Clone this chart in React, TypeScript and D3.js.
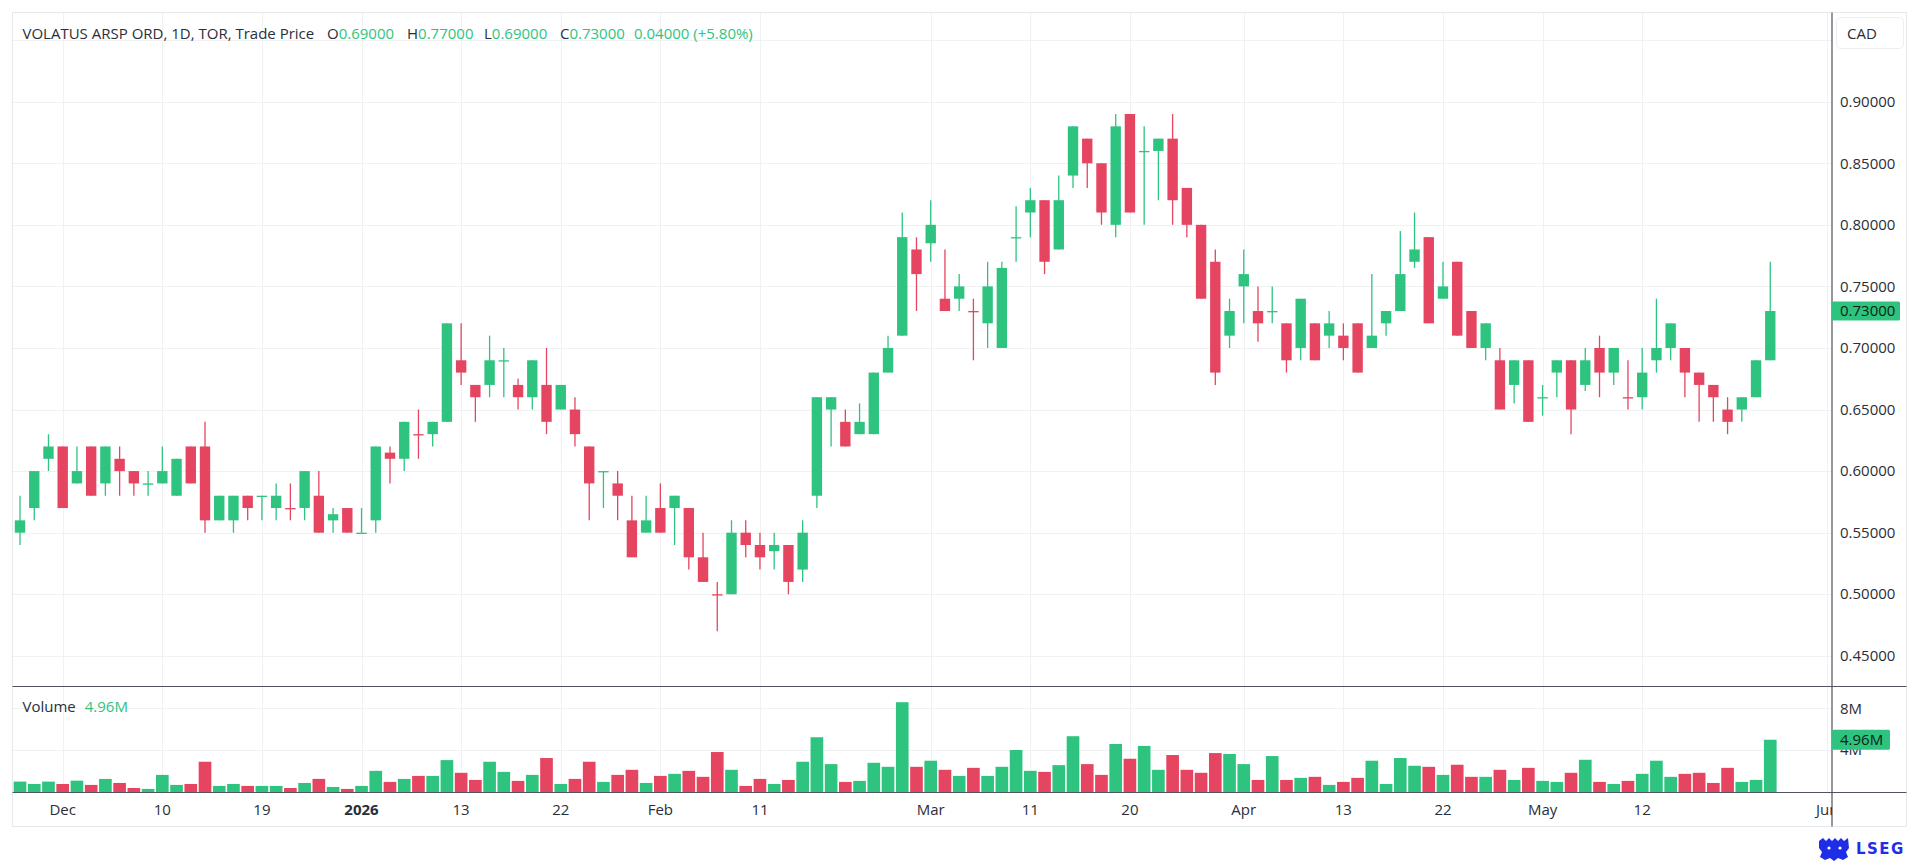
import { useEffect, useRef } from 'react';
import * as d3 from 'd3';

// Trading calendar (TSX) used for the time slots
const firstDay = '2025-11-26';
const lastSlot = '2026-06-01';
const holidays = ['2025-12-25', '2025-12-26', '2026-01-01', '2026-02-16', '2026-04-03', '2026-05-18'];

const opens = [
  0.55, 0.57, 0.61, 0.62, 0.59, 0.62, 0.59, 0.61, 0.60, 0.59,
  0.59, 0.58, 0.62, 0.62, 0.56, 0.56, 0.58, 0.58, 0.57, 0.57,
  0.57, 0.58, 0.56, 0.57, 0.55, 0.56, 0.615, 0.61, 0.63, 0.63,
  0.64, 0.69, 0.67, 0.67, 0.69, 0.67, 0.66, 0.67, 0.65, 0.65,
  0.62, 0.60, 0.59, 0.56, 0.55, 0.57, 0.57, 0.57, 0.53, 0.50,
  0.50, 0.55, 0.54, 0.535, 0.54, 0.52, 0.58, 0.65, 0.64, 0.63,
  0.63, 0.68, 0.71, 0.78, 0.785, 0.74, 0.74, 0.73, 0.72, 0.70,
  0.79, 0.81, 0.82, 0.78, 0.84, 0.87, 0.85, 0.80, 0.89, 0.86,
  0.86, 0.87, 0.83, 0.80, 0.77, 0.71, 0.75, 0.73, 0.73, 0.72,
  0.70, 0.72, 0.71, 0.71, 0.72, 0.70, 0.72, 0.73, 0.77, 0.79,
  0.74, 0.77, 0.73, 0.70, 0.69, 0.67, 0.69, 0.66, 0.68, 0.69,
  0.67, 0.70, 0.68, 0.66, 0.66, 0.69, 0.70, 0.70, 0.68, 0.67,
  0.65, 0.65, 0.66, 0.69,
];

const highs = [
  0.58, 0.60, 0.63, 0.62, 0.62, 0.62, 0.62, 0.62, 0.60, 0.60,
  0.62, 0.61, 0.62, 0.64, 0.58, 0.58, 0.58, 0.58, 0.59, 0.59,
  0.60, 0.60, 0.57, 0.57, 0.57, 0.62, 0.62, 0.64, 0.65, 0.64,
  0.72, 0.72, 0.67, 0.71, 0.70, 0.675, 0.69, 0.70, 0.67, 0.66,
  0.62, 0.60, 0.60, 0.58, 0.58, 0.59, 0.58, 0.57, 0.55, 0.51,
  0.56, 0.56, 0.55, 0.55, 0.54, 0.56, 0.66, 0.66, 0.65, 0.655,
  0.68, 0.71, 0.81, 0.79, 0.82, 0.78, 0.76, 0.74, 0.77, 0.77,
  0.815, 0.83, 0.82, 0.84, 0.88, 0.87, 0.85, 0.89, 0.89, 0.88,
  0.87, 0.89, 0.83, 0.80, 0.78, 0.74, 0.78, 0.75, 0.75, 0.72,
  0.74, 0.72, 0.73, 0.72, 0.72, 0.76, 0.73, 0.795, 0.81, 0.79,
  0.77, 0.77, 0.73, 0.72, 0.70, 0.69, 0.69, 0.67, 0.69, 0.69,
  0.70, 0.71, 0.70, 0.69, 0.70, 0.74, 0.72, 0.70, 0.68, 0.67,
  0.66, 0.66, 0.69, 0.77,
];

const lows = [
  0.54, 0.56, 0.60, 0.57, 0.59, 0.58, 0.58, 0.58, 0.58, 0.58,
  0.59, 0.58, 0.59, 0.55, 0.56, 0.55, 0.56, 0.56, 0.56, 0.56,
  0.56, 0.55, 0.55, 0.55, 0.55, 0.55, 0.59, 0.60, 0.61, 0.62,
  0.64, 0.67, 0.64, 0.66, 0.66, 0.65, 0.65, 0.63, 0.65, 0.62,
  0.56, 0.57, 0.56, 0.53, 0.55, 0.55, 0.54, 0.52, 0.51, 0.47,
  0.50, 0.53, 0.52, 0.52, 0.50, 0.51, 0.57, 0.62, 0.62, 0.63,
  0.63, 0.68, 0.71, 0.73, 0.77, 0.73, 0.73, 0.69, 0.70, 0.70,
  0.77, 0.79, 0.76, 0.78, 0.83, 0.83, 0.80, 0.79, 0.81, 0.80,
  0.82, 0.80, 0.79, 0.74, 0.67, 0.70, 0.72, 0.705, 0.72, 0.68,
  0.69, 0.69, 0.70, 0.69, 0.68, 0.70, 0.71, 0.73, 0.765, 0.72,
  0.74, 0.71, 0.70, 0.69, 0.65, 0.655, 0.64, 0.645, 0.66, 0.63,
  0.665, 0.66, 0.67, 0.65, 0.65, 0.68, 0.69, 0.66, 0.64, 0.64,
  0.63, 0.64, 0.66, 0.69,
];

const closes = [
  0.56, 0.60, 0.62, 0.57, 0.60, 0.58, 0.62, 0.60, 0.59, 0.59,
  0.60, 0.61, 0.59, 0.56, 0.58, 0.58, 0.57, 0.58, 0.58, 0.57,
  0.60, 0.55, 0.565, 0.55, 0.55, 0.62, 0.61, 0.64, 0.63, 0.64,
  0.72, 0.68, 0.66, 0.69, 0.69, 0.66, 0.69, 0.64, 0.67, 0.63,
  0.59, 0.60, 0.58, 0.53, 0.56, 0.55, 0.58, 0.53, 0.51, 0.50,
  0.55, 0.54, 0.53, 0.54, 0.51, 0.55, 0.66, 0.66, 0.62, 0.64,
  0.68, 0.70, 0.79, 0.76, 0.80, 0.73, 0.75, 0.73, 0.75, 0.765,
  0.79, 0.82, 0.77, 0.82, 0.88, 0.85, 0.81, 0.88, 0.81, 0.86,
  0.87, 0.82, 0.80, 0.74, 0.68, 0.73, 0.76, 0.72, 0.73, 0.69,
  0.74, 0.69, 0.72, 0.70, 0.68, 0.71, 0.73, 0.76, 0.78, 0.72,
  0.75, 0.71, 0.70, 0.72, 0.65, 0.69, 0.64, 0.66, 0.69, 0.65,
  0.69, 0.68, 0.70, 0.66, 0.68, 0.70, 0.72, 0.68, 0.67, 0.66,
  0.64, 0.66, 0.69, 0.73,
];

// volume in millions of shares
const volumes = [
  0.91, 0.68, 0.91, 0.68, 1.0, 0.59, 1.17, 0.78, 0.29, 0.2,
  1.56, 0.59, 0.68, 2.83, 0.49, 0.68, 0.49, 0.49, 0.49, 0.29,
  0.78, 1.17, 0.39, 0.2, 0.49, 1.95, 0.88, 1.17, 1.46, 1.46,
  2.99, 1.76, 1.07, 2.83, 1.85, 0.98, 1.56, 3.19, 0.68, 1.17,
  2.83, 0.88, 1.56, 2.05, 0.78, 1.46, 1.66, 1.95, 1.37, 3.77,
  2.05, 0.49, 1.17, 0.68, 1.07, 2.83, 5.2, 2.6, 0.88, 0.98,
  2.73, 2.34, 8.59, 2.34, 2.93, 2.05, 1.46, 2.24, 1.46, 2.34,
  3.97, 1.95, 1.85, 2.5, 5.3, 2.6, 1.56, 4.55, 3.12, 4.36,
  2.05, 3.48, 2.05, 1.76, 3.67, 3.58, 2.6, 1.07, 3.38, 1.07,
  1.27, 1.37, 0.59, 0.88, 1.27, 2.93, 0.68, 3.19, 2.44, 2.34,
  1.56, 2.54, 1.37, 1.37, 2.05, 1.07, 2.24, 0.98, 0.88, 1.76,
  3.02, 0.88, 0.68, 0.98, 1.66, 2.93, 1.37, 1.66, 1.76, 0.78,
  2.24, 0.88, 1.07, 4.96,
];

const timeTicks = [
  { date: '2025-12-01', label: 'Dec' },
  { date: '2025-12-10', label: '10' },
  { date: '2025-12-19', label: '19' },
  { date: '2026-01-02', label: '2026', bold: true },
  { date: '2026-01-13', label: '13' },
  { date: '2026-01-22', label: '22' },
  { date: '2026-02-02', label: 'Feb' },
  { date: '2026-02-11', label: '11' },
  { date: '2026-03-02', label: 'Mar' },
  { date: '2026-03-11', label: '11' },
  { date: '2026-03-20', label: '20' },
  { date: '2026-04-01', label: 'Apr' },
  { date: '2026-04-13', label: '13' },
  { date: '2026-04-22', label: '22' },
  { date: '2026-05-01', label: 'May' },
  { date: '2026-05-12', label: '12' },
  { date: '2026-06-01', label: 'Jun' },
];

const priceTicks = [0.45, 0.5, 0.55, 0.6, 0.65, 0.7, 0.75, 0.8, 0.85, 0.9];
const priceGrid = [0.45, 0.5, 0.55, 0.6, 0.65, 0.7, 0.75, 0.8, 0.85, 0.9, 0.95];
const volumeTicks = [4, 8];

const header = {
  title: 'VOLATUS ARSP ORD, 1D, TOR, Trade Price',
  fields: [
    { key: 'O', value: '0.69000' },
    { key: 'H', value: '0.77000' },
    { key: 'L', value: '0.69000' },
    { key: 'C', value: '0.73000' },
  ],
  change: '0.04000 (+5.80%)',
};

const UP = '#2ec47f';
const DOWN = '#e54560';
const TEXT = '#2a2e39';
const GRID = '#f0f1f3';
const FONT = "'Open Sans', 'Noto Sans', sans-serif";
const FS = 15;

function tradingDays(start: string, end: string, skip: string[]) {
  const out: string[] = [];
  const d = new Date(start + 'T00:00:00Z');
  const stop = new Date(end + 'T00:00:00Z');
  while (d <= stop) {
    const iso = d.toISOString().slice(0, 10);
    const wd = d.getUTCDay();
    if (wd !== 0 && wd !== 6 && !skip.includes(iso)) out.push(iso);
    d.setUTCDate(d.getUTCDate() + 1);
  }
  return out;
}

export default function App() {
  const svgRef = useRef<SVGSVGElement>(null);
  const width = 1920;
  const height = 865;

  useEffect(() => {
    if (!svgRef.current) return;
    const svg = d3.select(svgRef.current);
    svg.selectAll('*').remove();

    const left = 12.5;
    const top = 12.5;
    const axisX = 1832;
    const right = 1906.5;
    const paneSplit = 686.5;
    const volBottom = 792.5;
    const bottom = 826.5;

    const slots = tradingDays(firstDay, lastSlot, holidays);
    const bars = opens.map((o, i) => {
      const c = closes[i];
      const prev = i > 0 ? closes[i - 1] : c;
      const up = c > o ? true : c < o ? false : c >= prev;
      return { date: slots[i], o, h: highs[i], l: lows[i], c, v: volumes[i], up };
    });

    const x = d3.scaleBand<string>()
      .domain(slots)
      .range([12.9, 1834.3])
      .paddingInner(0);
    const cx = (d: string) => (x(d) || 0) + x.bandwidth() / 2;

    const y = d3.scaleLinear().domain([0.45, 0.9]).range([655.8, 101.7]);
    const yv = d3.scaleLinear().domain([0, 8]).range([791, 708.3]);

    svg.append('rect').attr('width', width).attr('height', height).attr('fill', '#fff');

    const defs = svg.append('defs');
    defs.append('clipPath').attr('id', 'pricePane')
      .append('rect').attr('x', left).attr('y', top).attr('width', axisX - left).attr('height', paneSplit - top);
    defs.append('clipPath').attr('id', 'timeAxis')
      .append('rect').attr('x', left).attr('y', volBottom).attr('width', axisX - left).attr('height', bottom - volBottom);

    // Grid
    const grid = svg.append('g').attr('stroke', GRID).attr('stroke-width', 1);
    grid.selectAll('.hgrid').data(priceGrid).enter().append('line')
      .attr('x1', left).attr('x2', axisX)
      .attr('y1', d => Math.round(y(d)) + 0.5).attr('y2', d => Math.round(y(d)) + 0.5);
    grid.selectAll('.vgrid').data(volumeTicks).enter().append('line')
      .attr('x1', left).attr('x2', axisX)
      .attr('y1', d => Math.round(yv(d)) + 0.5).attr('y2', d => Math.round(yv(d)) + 0.5);
    grid.selectAll('.tgrid').data(timeTicks).enter().append('line')
      .attr('x1', d => Math.round(cx(d.date)) + 0.5).attr('x2', d => Math.round(cx(d.date)) + 0.5)
      .attr('y1', top).attr('y2', volBottom);

    // Candles
    const bodyW = x.bandwidth() * 0.73;
    const candles = svg.append('g').attr('clip-path', 'url(#pricePane)')
      .selectAll('.candle').data(bars).enter().append('g');
    candles.append('line')
      .attr('x1', d => cx(d.date)).attr('x2', d => cx(d.date))
      .attr('y1', d => y(d.h)).attr('y2', d => y(d.l))
      .attr('stroke', d => (d.up ? UP : DOWN)).attr('stroke-width', 1.3);
    candles.append('rect')
      .attr('x', d => cx(d.date) - bodyW / 2)
      .attr('width', bodyW)
      .attr('y', d => y(Math.max(d.o, d.c)))
      .attr('height', d => Math.max(1.3, Math.abs(y(d.o) - y(d.c))))
      .attr('fill', d => (d.up ? UP : DOWN));

    // Volume
    const volW = x.bandwidth() * 0.89;
    svg.append('g').selectAll('.vol').data(bars).enter().append('rect')
      .attr('x', d => cx(d.date) - volW / 2)
      .attr('width', volW)
      .attr('y', d => yv(d.v))
      .attr('height', d => volBottom - yv(d.v))
      .attr('fill', d => (d.up ? UP : DOWN));

    // Frame and pane separators
    svg.append('rect')
      .attr('x', left).attr('y', top).attr('width', right - left).attr('height', bottom - top)
      .attr('fill', 'none').attr('stroke', '#e6e8ec');
    const frame = svg.append('g').attr('stroke', '#50535e').attr('stroke-width', 1.2);
    frame.append('line').attr('x1', left).attr('x2', right).attr('y1', paneSplit).attr('y2', paneSplit);
    frame.append('line').attr('x1', left).attr('x2', right).attr('y1', volBottom).attr('y2', volBottom);
    frame.append('line').attr('x1', axisX).attr('x2', axisX).attr('y1', top).attr('y2', bottom);

    // Price axis
    const axisText = svg.append('g').attr('font-family', FONT).attr('font-size', FS).attr('fill', TEXT);
    axisText.selectAll('.pt').data(priceTicks).enter().append('text')
      .attr('x', 1840).attr('y', d => y(d)).attr('dy', '0.35em')
      .text(d => d.toFixed(5));
    axisText.selectAll('.vt').data(volumeTicks).enter().append('text')
      .attr('x', 1840).attr('y', d => yv(d)).attr('dy', '0.35em')
      .text(d => `${d}M`);

    // CAD box
    svg.append('rect').attr('x', 1836.5).attr('y', 17.5).attr('width', 67).attr('height', 31).attr('rx', 4)
      .attr('fill', '#fff').attr('stroke', '#eceef1');
    svg.append('text').attr('x', 1847).attr('y', 33.5).attr('dy', '0.35em')
      .attr('font-family', FONT).attr('font-size', FS).attr('fill', TEXT).text('CAD');

    // Last price / last volume markers
    const last = bars[bars.length - 1];
    svg.append('rect').attr('x', axisX).attr('y', y(last.c) - 9.5).attr('width', 68).attr('height', 19)
      .attr('rx', 1.5).attr('fill', UP);
    svg.append('text').attr('x', 1840).attr('y', y(last.c)).attr('dy', '0.35em')
      .attr('font-family', FONT).attr('font-size', FS).attr('fill', '#0d1f16').text(last.c.toFixed(5));
    svg.append('rect').attr('x', axisX).attr('y', yv(last.v) - 10).attr('width', 58).attr('height', 20)
      .attr('rx', 1.5).attr('fill', UP);
    svg.append('text').attr('x', 1840).attr('y', yv(last.v)).attr('dy', '0.35em')
      .attr('font-family', FONT).attr('font-size', FS).attr('fill', '#0d1f16').text(`${last.v.toFixed(2)}M`);

    // Time axis labels
    svg.append('g').attr('clip-path', 'url(#timeAxis)')
      .selectAll('.tl').data(timeTicks).enter().append('text')
      .attr('x', d => cx(d.date)).attr('y', 810).attr('dy', '0.35em')
      .attr('text-anchor', 'middle')
      .attr('font-family', FONT).attr('font-size', FS)
      .attr('font-weight', d => (d.bold ? 700 : 400))
      .attr('fill', TEXT)
      .text(d => d.label);

    // Header legend
    const head = svg.append('g').attr('font-family', FONT).attr('font-size', FS);
    head.append('text').attr('x', 22.5).attr('y', 33.5).attr('dy', '0.35em').attr('fill', TEXT).text(header.title);
    const fieldX = [327, 407, 484, 560];
    header.fields.forEach((f, i) => {
      const t = head.append('text').attr('x', fieldX[i]).attr('y', 33.5).attr('dy', '0.35em');
      t.append('tspan').attr('fill', TEXT).text(f.key);
      t.append('tspan').attr('fill', UP).text(f.value);
    });
    head.append('text').attr('x', 634).attr('y', 33.5).attr('dy', '0.35em').attr('fill', UP).text(header.change);

    // Volume legend
    const vleg = svg.append('text').attr('x', 22.5).attr('y', 706.5).attr('dy', '0.35em')
      .attr('font-family', FONT).attr('font-size', FS);
    vleg.append('tspan').attr('fill', TEXT).text('Volume');
    vleg.append('tspan').attr('dx', 9).attr('fill', UP).text(`${last.v.toFixed(2)}M`);

    // LSEG mark
    const logo = svg.append('g').attr('fill', '#1f2ee6');
    logo.append('path')
      .attr('d', 'M1819,841 l4,-3 l3,3 l3,-3 l3,3 l3,-3 l3,3 l3,-3 l3,3 l4,-3 l1,10 l-3,4 l2,5 l-5,3 l-5,-2 l-4,3 l-4,-3 l-5,2 l-5,-3 l2,-5 l-3,-4 z');
    logo.append('circle').attr('cx', 1829).attr('cy', 848).attr('r', 1.6).attr('fill', '#fff');
    logo.append('circle').attr('cx', 1840).attr('cy', 848).attr('r', 1.6).attr('fill', '#fff');
    logo.append('text').attr('x', 1856).attr('y', 849).attr('dy', '0.35em')
      .attr('font-family', "'DejaVu Sans', sans-serif").attr('font-weight', 700).attr('font-size', 15)
      .attr('letter-spacing', 1.5).text('LSEG');
  }, []);

  return (
    <svg
      ref={svgRef}
      width={width}
      height={height}
      style={{ position: 'absolute', left: 0, top: 0, display: 'block' }}
    />
  );
}
